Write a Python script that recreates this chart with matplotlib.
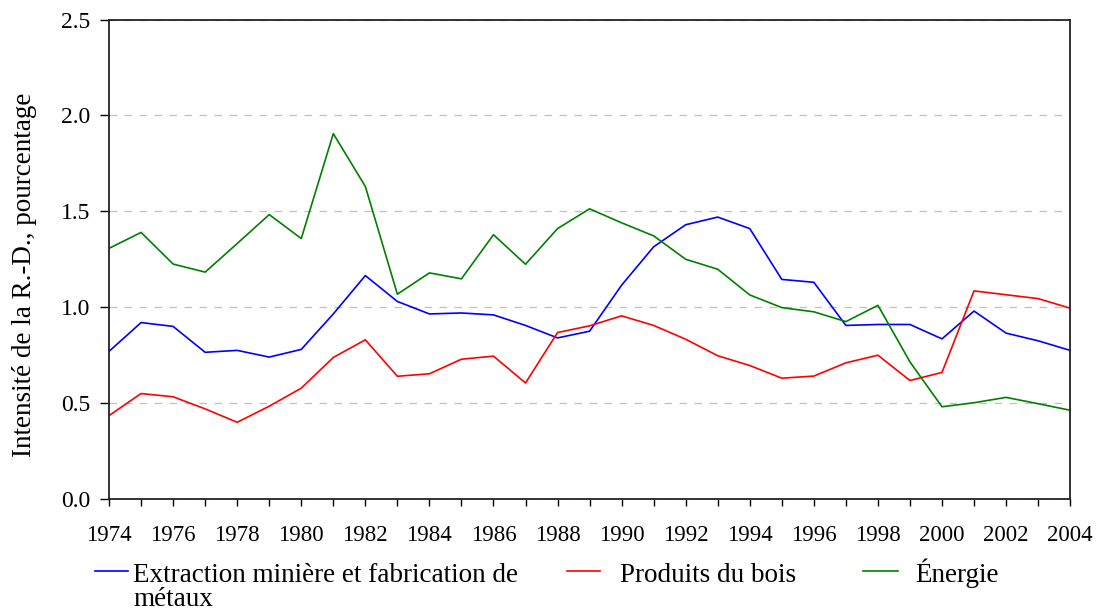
import matplotlib.pyplot as plt
from matplotlib.lines import Line2D
import numpy as np

plt.rcParams['font.family'] = ['Liberation Serif', 'DejaVu Serif']

years = list(range(1974, 2005))

extraction = [0.77, 0.92, 0.90, 0.765, 0.775, 0.74, 0.78, 0.965, 1.165, 1.03,
              0.965, 0.97, 0.96, 0.905, 0.84, 0.875, 1.115, 1.315, 1.43, 1.47,
              1.41, 1.145, 1.13, 0.905, 0.91, 0.91, 0.835, 0.98, 0.865, 0.825,
              0.775]
bois = [0.435, 0.55, 0.533, 0.47, 0.40, 0.484, 0.578, 0.738, 0.83, 0.64,
        0.653, 0.729, 0.745, 0.605, 0.868, 0.903, 0.955, 0.905, 0.833, 0.747,
        0.696, 0.63, 0.641, 0.71, 0.75, 0.618, 0.66, 1.085, 1.065, 1.045,
        0.995]
energie = [1.307, 1.39, 1.225, 1.183, 1.332, 1.483, 1.358, 1.905, 1.63, 1.068,
           1.179, 1.148, 1.378, 1.224, 1.41, 1.513, 1.44, 1.372, 1.25, 1.198,
           1.064, 0.998, 0.976, 0.925, 1.01, 0.715, 0.481, 0.502, 0.53, 0.497,
           0.463]

labels = [['Extraction minière et fabrication de', 'métaux'], ['Produits du bois'], ['Énergie']]
colors = ['#0000ff', '#ff0000', '#008000']

fig = plt.figure(figsize=(10.97, 6.12), dpi=100)
ax = fig.add_axes([0.0994, 0.1846, 0.8761, 0.7835])

for series, c in zip([extraction, bois, energie], colors):
    ax.plot(years, series, color=c, linewidth=1.2)

ax.set_xlim(1974, 2004)
ax.set_ylim(0, 2.5)
ax.set_xticks(range(1974, 2005, 2))
ax.set_xticks(range(1974, 2005), minor=True)
ax.set_yticks(np.arange(0, 2.51, 0.5))
ax.set_yticklabels(['%.1f' % v for v in np.arange(0, 2.51, 0.5)])
ax.tick_params(axis='x', which='both', direction='out', length=5, width=1, labelsize=16.5, pad=14)
ax.tick_params(axis='y', direction='out', length=6.5, width=1, labelsize=17, pad=7)
ax.yaxis.grid(True, linestyle=(0, (6, 6)), color='#c0c0c0', linewidth=0.9)
ax.set_axisbelow(True)
for s in ax.spines.values():
    s.set_linewidth(1.3)
    s.set_color('#222222')

ax.set_ylabel('Intensité de la R.-D., pourcentage', fontsize=19.5, labelpad=17)
ax.yaxis.label.set_y(0.467)

# legend below the axes
line_y = 1 - 571 / 612
legend_pos = [(95, 128, 133), (567, 600, 620), (863, 898, 915)]
for (x0, x1, xt), lines, c in zip(legend_pos, labels, colors):
    fig.add_artist(Line2D([x0 / 1097, x1 / 1097], [line_y, line_y],
                          color=c, linewidth=1.2, transform=fig.transFigure))
    for i, txt in enumerate(lines):
        fig.text(xt / 1097, 1 - (582 + 24 * i) / 612, txt, fontsize=19.5,
                 va='baseline', ha='left')

fig.savefig('out.png', dpi=100)
